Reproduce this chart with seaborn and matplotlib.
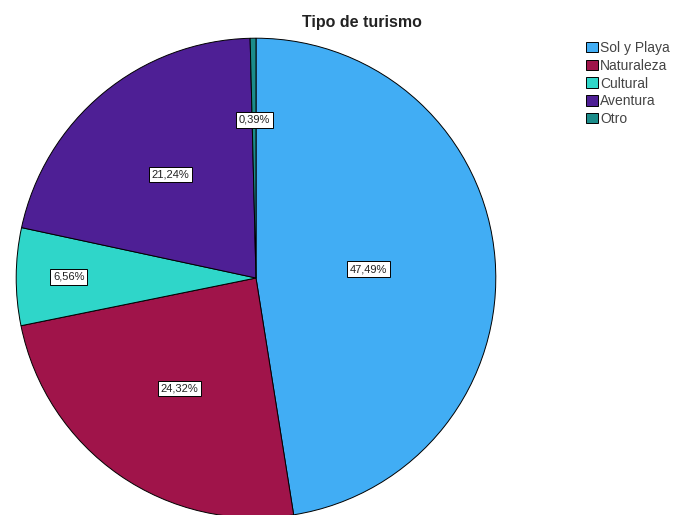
import matplotlib
matplotlib.use("Agg")
import matplotlib.pyplot as plt
import seaborn as sns
import numpy as np

categories = ["Sol y Playa", "Naturaleza", "Cultural", "Aventura", "Otro"]
values = [47.49, 24.32, 6.56, 21.24, 0.39]
colors = ["#41adf4", "#a0144a", "#2fd6c9", "#4e1f95", "#1b8c8a"]
label_r = [0.47, 0.56, 0.78, 0.56, 0.66]

sns.set_theme(style="white")
plt.rcParams['font.family'] = ['Liberation Sans', 'DejaVu Sans']

fig = plt.figure(figsize=(6.76, 5.15), dpi=100)
ax = fig.add_axes([15/676, -4/515, 482/676, 482/515])
wedges, _ = ax.pie(values, colors=colors, startangle=90, counterclock=False,
                   radius=1, wedgeprops=dict(edgecolor="black", linewidth=0.7))
ax.set_xlim(-1.005, 1.005)
ax.set_ylim(-1.005, 1.005)
ax.set_aspect("equal")
ax.axis("off")

for w, v, r in zip(wedges, values, label_r):
    ang = np.deg2rad((w.theta1 + w.theta2) / 2)
    ax.text(r*np.cos(ang), r*np.sin(ang), f"{v:.2f}%".replace(".", ","),
            ha="center", va="center", fontsize=8, color="#222222",
            bbox=dict(boxstyle="square,pad=0.25", facecolor="white", edgecolor="black", linewidth=0.7))

fig.text(362/676, 1 - 23/515, "Tipo de turismo", ha="center", va="center",
         fontsize=11.5, fontweight="bold", color="#222222")

fig.legend(wedges, categories, loc="upper left", bbox_to_anchor=(586/676, 1 - 41/515),
           frameon=False, fontsize=10, handlelength=0.85, handleheight=0.8,
           handletextpad=0.15, labelspacing=0.27, borderpad=0, borderaxespad=0,
           labelcolor="#444444")

fig.savefig("out.png", dpi=100)
